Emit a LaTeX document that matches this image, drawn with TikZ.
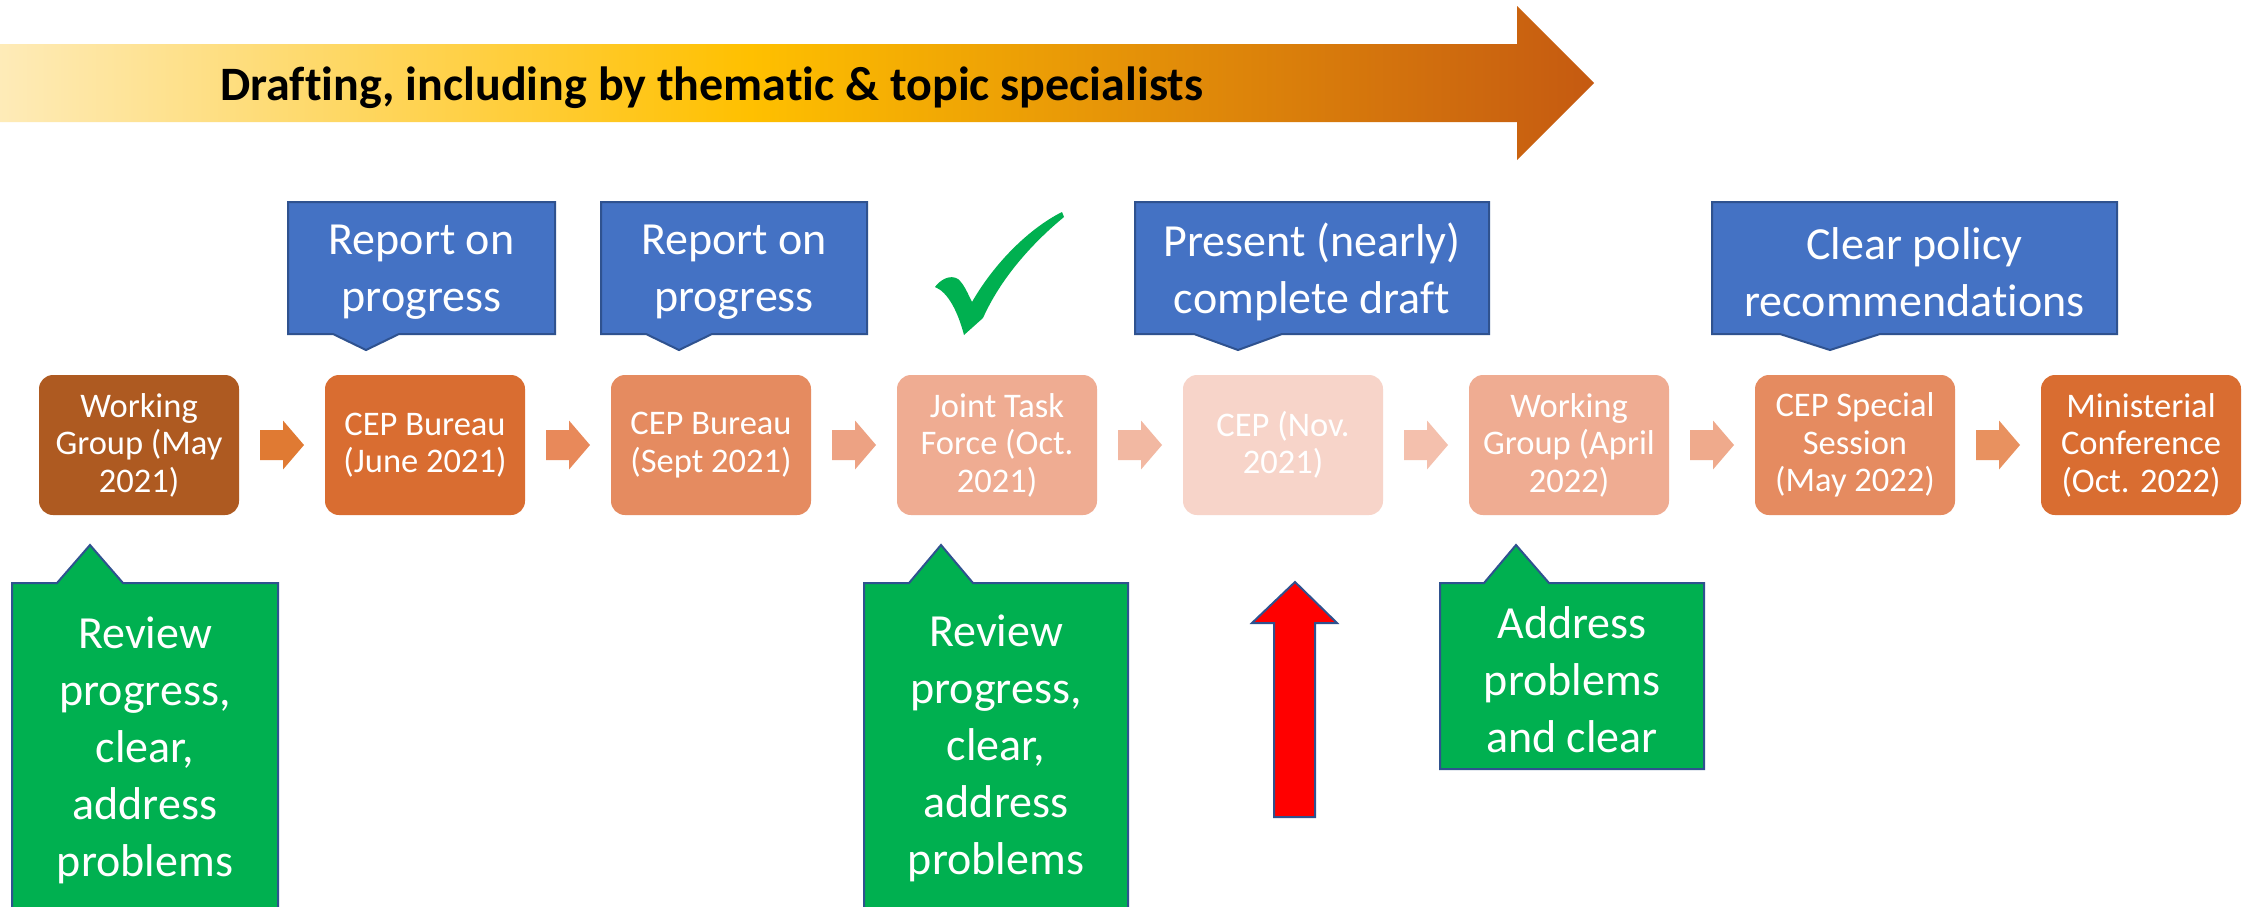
\documentclass[tikz,border=0pt]{standalone}
\usepackage{fontspec}
\setmainfont{Carlito}[Ligatures=CommonOff]
\usetikzlibrary{calc}
\definecolor{tA}{HTML}{FEEBB8}
\definecolor{tB}{HTML}{FFC000}
\definecolor{tC}{HTML}{C55A11}
\definecolor{cA}{HTML}{AE5A21}
\definecolor{cB}{HTML}{D96D31}
\definecolor{cC}{HTML}{E58B60}
\definecolor{cD}{HTML}{EFAC92}
\definecolor{cE}{HTML}{F7D4C9}
\definecolor{aA}{HTML}{E07A33}
\definecolor{aB}{HTML}{E8895A}
\definecolor{aC}{HTML}{EDA283}
\definecolor{aD}{HTML}{F2B8A2}
\definecolor{aE}{HTML}{F4C0AD}
\definecolor{aF}{HTML}{EFAA8C}
\definecolor{aG}{HTML}{E8915F}
\definecolor{blueF}{HTML}{4472C4}
\definecolor{edgeB}{HTML}{2F528F}
\definecolor{greenF}{HTML}{00B050}
\definecolor{redF}{HTML}{FF0000}
\pgfdeclarehorizontalshading{draftshade}{100bp}{color(0bp)=(tA); color(25bp)=(tA); color(48.5bp)=(tB); color(75bp)=(tC); color(100bp)=(tC)}
\newcommand\steparrow[3]{%
  \path (#1.east) -- (#2.west) coordinate[midway] (#1#2m);
  \fill[#3] ($(#1#2m)+(-22,-15)$) -- ++(23,0) -- ++(0,-9.5) -- ++(21,24.5) -- ++(-21,24.5) -- ++(0,-9.5) -- ++(-23,0) -- cycle;}
\tikzset{
  pbox/.style={rounded corners=14pt, minimum width=200pt, minimum height=140pt, text=white, align=center, inner sep=0pt, font=\fontsize{34.5}{37.5}\selectfont},
  calltext/.style={text=white, align=center, inner sep=0pt, font=\fontsize{46}{57}\selectfont},
  bluecall/.style={fill=blueF, draw=edgeB, line width=2pt, line join=miter},
  greencall/.style={fill=greenF, draw=edgeB, line width=2pt, line join=miter},
}
\begin{document}
\begin{tikzpicture}[x=1pt,y=-1pt]
\useasboundingbox (0,0) rectangle (2259,906);
\clip (0,0) rectangle (2259,906);
\fill[white] (0,0) rectangle (2259,906);
% top drafting arrow
\shade[shading=draftshade] (0,44) -- (1517,44) -- (1517,6) -- (1594,83) -- (1517,160) -- (1517,122) -- (0,122) -- cycle;
\node[anchor=base west, inner sep=0pt, font=\bfseries\fontsize{48}{58}\selectfont] (title) at (220,100) {Drafting, including by thematic \& topic specialists};
% process boxes
\node[pbox, fill=cA] (b1) at (139,445) {Working\\Group (May\\2021)};
\node[pbox, fill=cB] (b2) at (425,445) {CEP Bureau\\(June 2021)};
\node[pbox, fill=cC] (b3) at (711,445) {CEP Bureau\\(Sept 2021)};
\node[pbox, fill=cD] (b4) at (997,445) {Joint Task\\Force (Oct.\\2021)};
\node[pbox, fill=cE] (b5) at (1283,445) {CEP (Nov.\\2021)};
\node[pbox, fill=cD] (b6) at (1569,445) {Working\\Group (April\\2022)};
\node[pbox, fill=cC] (b7) at (1855,445) {CEP Special\\Session\\(May 2022)};
\node[pbox, fill=cB] (b8) at (2141,445) {Ministerial\\Conference\\(Oct. 2022)};
\steparrow{b1}{b2}{aA}
\steparrow{b2}{b3}{aB}
\steparrow{b3}{b4}{aC}
\steparrow{b4}{b5}{aD}
\steparrow{b5}{b6}{aE}
\steparrow{b6}{b7}{aF}
\steparrow{b7}{b8}{aG}
% blue callouts
\draw[bluecall] (288,202) -- (555,202) -- (555,334) -- (399,334) -- (366,350) -- (333,334) -- (288,334) -- cycle;
\node[calltext] (u1) at (421.5,272) {Report on\\progress};
\draw[bluecall] (601,202) -- (867,202) -- (867,334) -- (712,334) -- (679,350) -- (646,334) -- (601,334) -- cycle;
\node[calltext] (u2) at (734,272) {Report on\\progress};
\draw[bluecall] (1135,202) -- (1489,202) -- (1489,334) -- (1282,334) -- (1238,350) -- (1194,334) -- (1135,334) -- cycle;
\node[calltext] (u3) at (1312,272) {Present (nearly)\\complete draft};
\draw[bluecall] (1712,202) -- (2117,202) -- (2117,334) -- (1880,334) -- (1830,350) -- (1780,334) -- (1712,334) -- cycle;
\node[calltext] (u4) at (1914.5,272) {Clear policy\\recommendations};
% check mark
\fill[greenF] (935,287) .. controls (940,280) and (950,274) .. (958,279) .. controls (964,284) and (968,294) .. (972,302) .. controls (995,262) and (1030,228) .. (1062,212) -- (1064,217) .. controls (1030,245) and (1000,280) .. (983,318) -- (964,335) .. controls (958,312) and (948,292) .. (935,287) -- cycle;
% green callouts
\draw[greencall] (12,583) -- (57,583) -- (90,545) -- (123,583) -- (278,583) -- (278,930) -- (12,930) -- cycle;
\node[calltext] (g1) at (145,750) {Review\\progress,\\clear,\\address\\problems};
\draw[greencall] (864,583) -- (909,583) -- (941,545) -- (973,583) -- (1128,583) -- (1128,930) -- (864,930) -- cycle;
\node[calltext] (g2) at (996,748) {Review\\progress,\\clear,\\address\\problems};
\draw[greencall] (1440,583) -- (1484,583) -- (1516,545) -- (1549,583) -- (1704,583) -- (1704,769) -- (1440,769) -- cycle;
\node[calltext] (g3) at (1572,680) {Address\\problems\\and clear};
% red arrow
\draw[fill=redF, draw=edgeB, line width=2pt, line join=miter] (1295,582) -- (1337,623) -- (1315,623) -- (1315,817) -- (1274,817) -- (1274,623) -- (1252,623) -- cycle;
\end{tikzpicture}
\end{document}
